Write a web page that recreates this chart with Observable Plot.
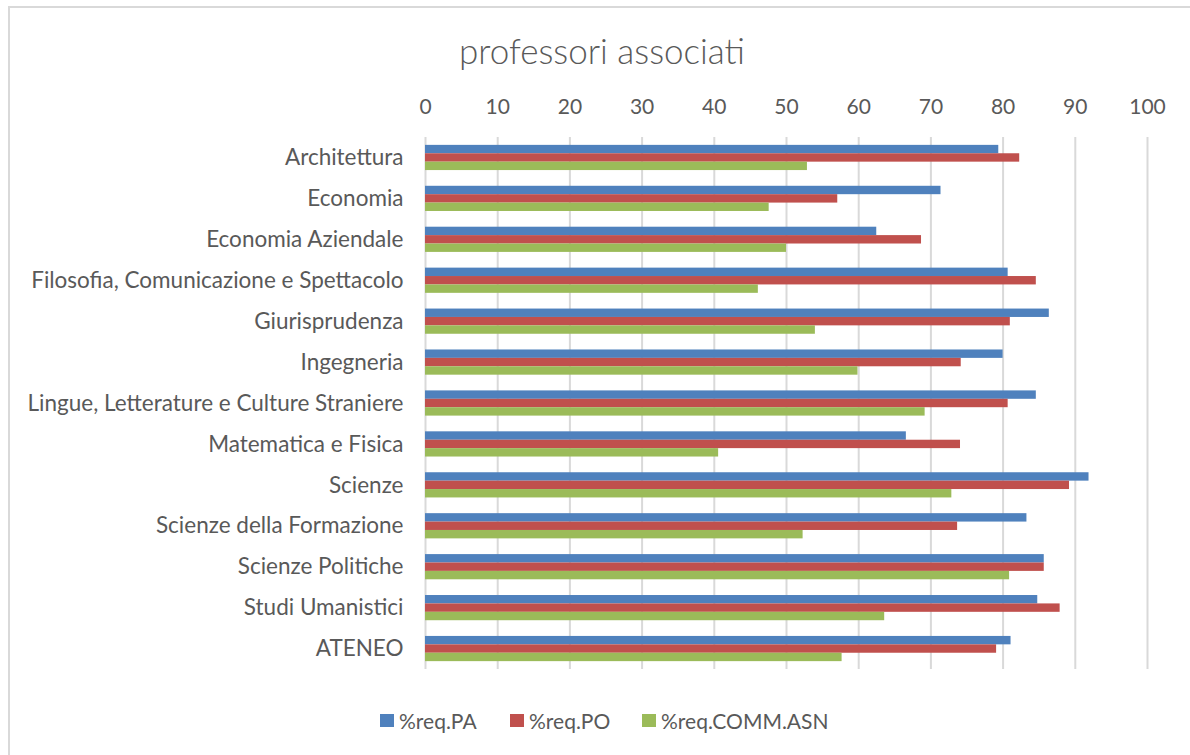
<!DOCTYPE html>
<html>
<head>
<meta charset="utf-8">
<script src="https://cdn.jsdelivr.net/npm/d3@7"></script>
<script src="https://cdn.jsdelivr.net/npm/@observablehq/plot@0.6"></script>
<style>
  html, body { margin: 0; padding: 0; background: #fff; width: 1190px; height: 755px; overflow: hidden; }
  #wrap { position: relative; width: 1190px; height: 755px; font-family: Lato, "Open Sans", sans-serif; }
  #frame { position: absolute; left: 8px; top: 6px; width: 1300px; height: 900px; border: 2px solid #d9d9d9; box-sizing: border-box; }
  #chart { position: absolute; left: 0; top: 0; }
  #title { position: absolute; left: 0; width: 1204px; top: 29px; text-align: center; font-size: 35px; font-weight: 300; color: #595959; }
  #legend { position: absolute; left: 0; top: 706px; width: 1190px; height: 30px; font-size: 21px; color: #595959; }
  .item { position: absolute; top: 0; display: flex; align-items: center; height: 28px; }
  .sw { width: 14px; height: 13px; margin-right: 5px; }
</style>
</head>
<body>
<div id="wrap">
  <div id="frame"></div>
  <div id="chart"></div>
  <div id="title">professori associati</div>
  <div id="legend"></div>
</div>
<script>
const categories = [
  "Architettura", "Economia", "Economia Aziendale",
  "Filosofia, Comunicazione e Spettacolo", "Giurisprudenza", "Ingegneria",
  "Lingue, Letterature e Culture Straniere", "Matematica e Fisica", "Scienze",
  "Scienze della Formazione", "Scienze Politiche", "Studi Umanistici", "ATENEO"
];
const seriesNames = ["%req.PA", "%req.PO", "%req.COMM.ASN"];
const seriesColors = ["#4f81bd", "#c0504d", "#9bbb59"];
const reqPA   = [79.4, 71.4, 62.5, 80.7, 86.4, 80.0, 84.6, 66.6, 91.9, 83.3, 85.7, 84.8, 81.1];
const reqPO   = [82.3, 57.1, 68.7, 84.6, 81.0, 74.2, 80.7, 74.1, 89.2, 73.7, 85.7, 87.9, 79.1];
const reqCOMM = [52.9, 47.6, 50.0, 46.1, 54.0, 59.9, 69.2, 40.6, 72.9, 52.3, 80.9, 63.6, 57.7];
const xTicks = [0, 10, 20, 30, 40, 50, 60, 70, 80, 90, 100];

const seriesValues = [reqPA, reqPO, reqCOMM];
const rows = seriesValues.map((vals, s) => categories.map((c, i) => ({cat: c, v: vals[i], s: seriesNames[s]})));

const W = 1190, H = 755;
const step = (669 - 137) / categories.length;
const barH = 8.4;
const pin = 1 - barH / step;

const plot = Plot.plot({
  width: W,
  height: H,
  marginLeft: 425,
  marginRight: 43,
  marginTop: 137,
  marginBottom: 86,
  style: {fontFamily: "Lato, 'Open Sans', sans-serif", color: "#595959", background: "transparent"},
  x: {domain: [0, 100], axis: null, label: null},
  y: {domain: categories, paddingInner: pin, paddingOuter: pin / 2, round: false, axis: null, label: null},
  marks: [
    Plot.ruleX(xTicks, {stroke: "#d9d9d9", strokeWidth: 2}),
    ...rows.map((data, s) => Plot.barX(data, {
      y: "cat", x: "v", fill: seriesColors[s], dy: (s - 1) * barH, insetTop: 0, insetBottom: 0
    })),
    Plot.axisX(xTicks, {anchor: "top", tickSize: 0, tickPadding: 24, fontSize: 21, fill: "#595959", tickFormat: d => d, label: null}),
    Plot.axisY(categories, {anchor: "left", tickSize: 0, tickPadding: 22, fontSize: 22.5, fill: "#595959", label: null})
  ]
});
document.getElementById("chart").appendChild(plot);

const legend = document.getElementById("legend");
const legendLeft = [380, 510, 642];
seriesNames.forEach((n, i) => {
  const it = document.createElement("div");
  it.className = "item";
  it.style.left = legendLeft[i] + "px";
  it.innerHTML = `<span class="sw" style="background:${seriesColors[i]}"></span><span>${n}</span>`;
  legend.appendChild(it);
});
</script>
</body>
</html>
